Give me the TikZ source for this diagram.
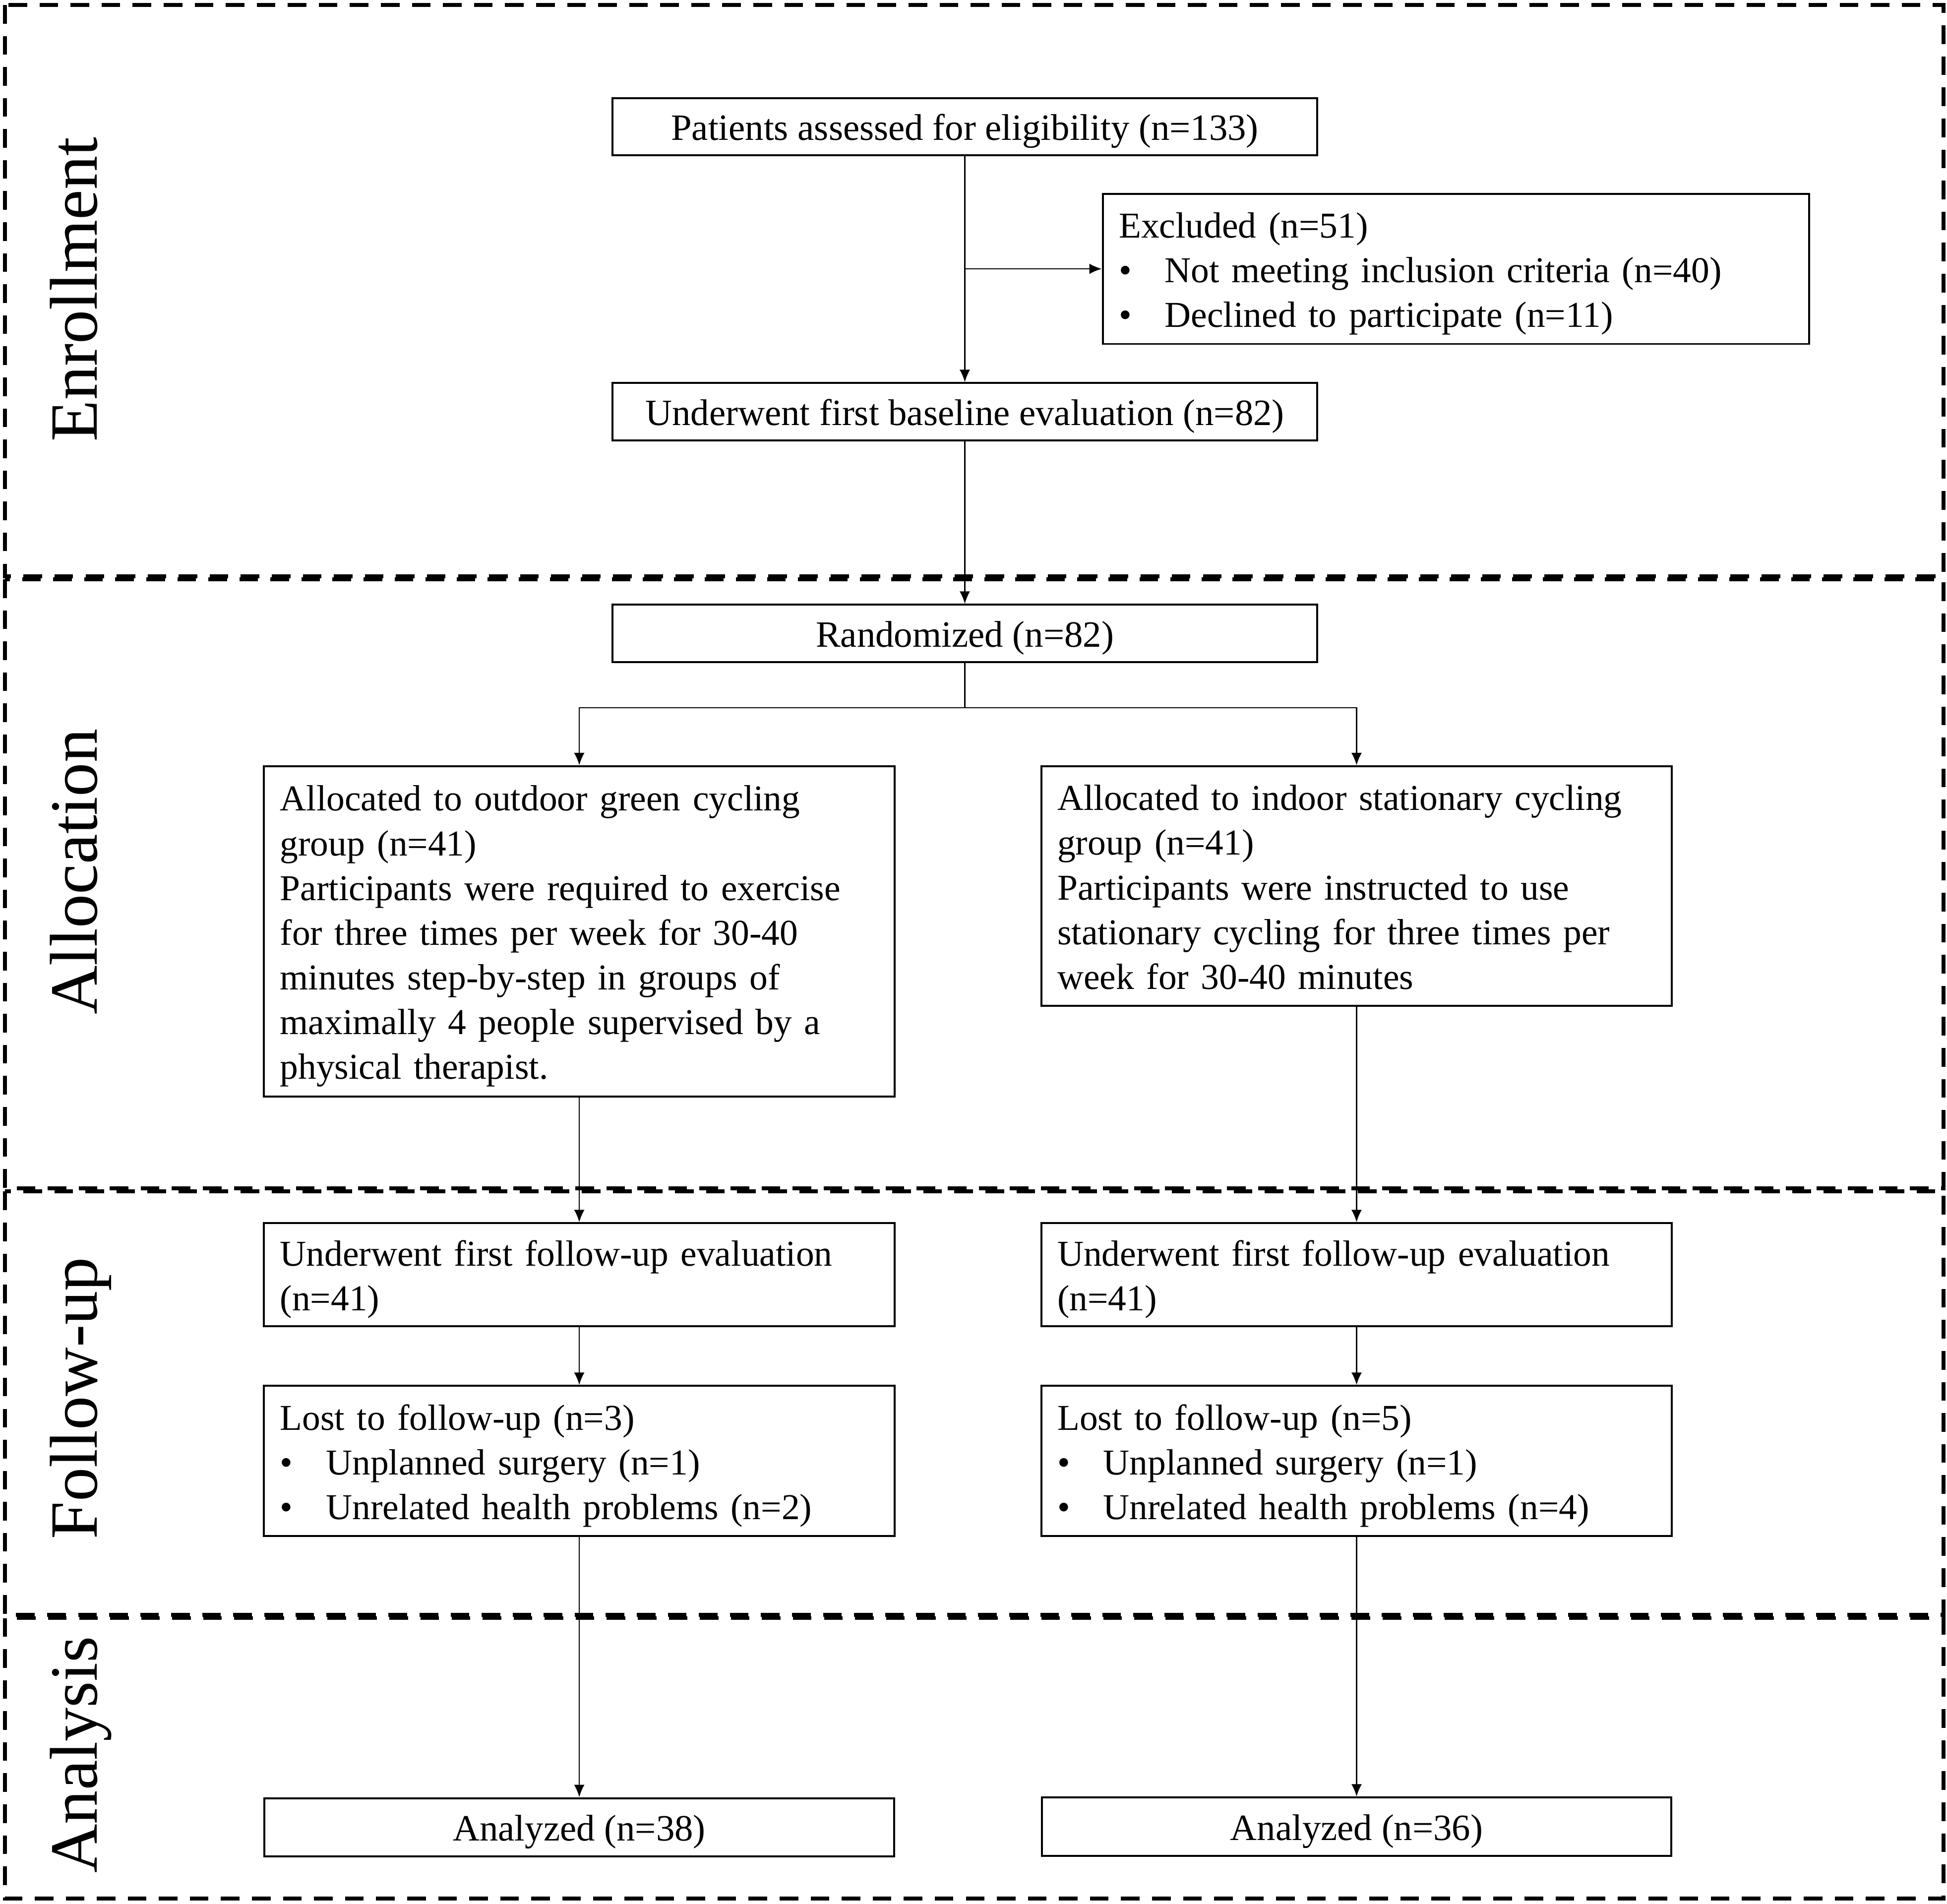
\documentclass[tikz,border=0pt]{standalone}
\usepackage{fontspec}
\setmainfont{Liberation Serif}
\usetikzlibrary{arrows.meta}
\tikzstyle{box}=[draw,line width=0.9pt,inner xsep=0.26cm,inner ysep=0pt,font=\fontsize{17}{20.5}\selectfont,execute at begin node={\rule{0pt}{0.57cm}},execute at end node={\rule[-0.13cm]{0pt}{0pt}}]
\tikzstyle{tbox}=[box,align=left,font=\fontsize{16.7}{20.5}\selectfont]
\tikzstyle{phase}=[draw,line width=1.8pt,dash pattern=on 0.3cm off 0.2cm]
\tikzstyle{stage}=[rotate=90,anchor=base,inner sep=0pt,font=\fontsize{31}{36}\selectfont]
\newcommand{\bitem}[1]{\makebox[0.74cm][l]{\textbullet}#1}

\begin{document}
\begin{tikzpicture}[x=0.02cm,y=-0.02cm,line width=0.6pt,>={Latex[length=0.2cm,width=0.17cm]}]
\useasboundingbox (0,0) rectangle (1568,1533);
\draw[phase] (4,4) rectangle (1565,464);
\draw[phase] (4,466.5) rectangle (1565,957);
\draw[phase] (4,959.5) rectangle (1565,1300.5);
\draw[phase] (4,1303) rectangle (1565,1529);
\node[stage] at (78,233) (enr) {Enrollment};
\node[stage] at (78,702) (alc) {Allocation};
\node[stage] at (78,1126) (fup) {Follow-up};
\node[stage] at (78,1413) (ana) {Analysis};
\node[box,minimum width=11.36cm,minimum height=0.92cm] at (777,102) (pat) {Patients assessed for eligibility (n=133)};
\node[tbox,text width=10.86cm,minimum height=2.42cm] at (1172.5,216.5) (excl) {Excluded (n=51)\\\bitem{Not meeting inclusion criteria (n=40)}\\\bitem{Declined to participate (n=11)}};
\node[box,minimum width=11.36cm,minimum height=0.92cm] at (777,331.5) (base) {Underwent first baseline evaluation (n=82)};
\node[box,minimum width=11.36cm,minimum height=0.92cm] at (777,510) (rand) {Randomized (n=82)};
\coordinate (split) at (777,570);
\node[tbox,text width=9.64cm,minimum height=5.32cm] at (466.5,750) (allocL) {Allocated to outdoor green cycling\\group (n=41)\\Participants were required to exercise\\for three times per week for 30-40\\minutes step-by-step in groups of\\maximally 4 people supervised by a\\physical therapist.};
\node[tbox,text width=9.64cm,minimum height=3.86cm] at (1092.5,713.5) (allocR) {Allocated to indoor stationary cycling\\group (n=41)\\Participants were instructed to use\\stationary cycling for three times per\\week for 30-40 minutes};
\node[tbox,text width=9.64cm,minimum height=1.66cm] at (466.5,1026.5) (fupL) {Underwent first follow-up evaluation\\(n=41)};
\node[tbox,text width=9.64cm,minimum height=1.66cm] at (1092.5,1026.5) (fupR) {Underwent first follow-up evaluation\\(n=41)};
\node[tbox,text width=9.64cm,minimum height=2.42cm] at (466.5,1176.5) (lostL) {Lost to follow-up (n=3)\\\bitem{Unplanned surgery (n=1)}\\\bitem{Unrelated health problems (n=2)}};
\node[tbox,text width=9.64cm,minimum height=2.42cm] at (1092.5,1176.5) (lostR) {Lost to follow-up (n=5)\\\bitem{Unplanned surgery (n=1)}\\\bitem{Unrelated health problems (n=4)}};
\node[box,minimum width=10.14cm,minimum height=0.94cm] at (466.5,1471.5) (anaL) {Analyzed (n=38)};
\node[box,minimum width=10.14cm,minimum height=0.94cm] at (1092.5,1471) (anaR) {Analyzed (n=36)};
\draw[->] (pat) edge (base);
\draw[->] (pat.south |- excl.west) -- (excl.west);
\draw[->] (base) edge (rand);
\draw[->] (rand) -- (split) -| (allocL);
\draw[->] (split) -| (allocR);
\draw[->] (allocL) edge (fupL);
\draw[->] (allocR) edge (fupR);
\draw[->] (fupL) edge (lostL);
\draw[->] (fupR) edge (lostR);
\draw[->] (lostL) edge (anaL);
\draw[->] (lostR) edge (anaR);
\end{tikzpicture}
\end{document}
